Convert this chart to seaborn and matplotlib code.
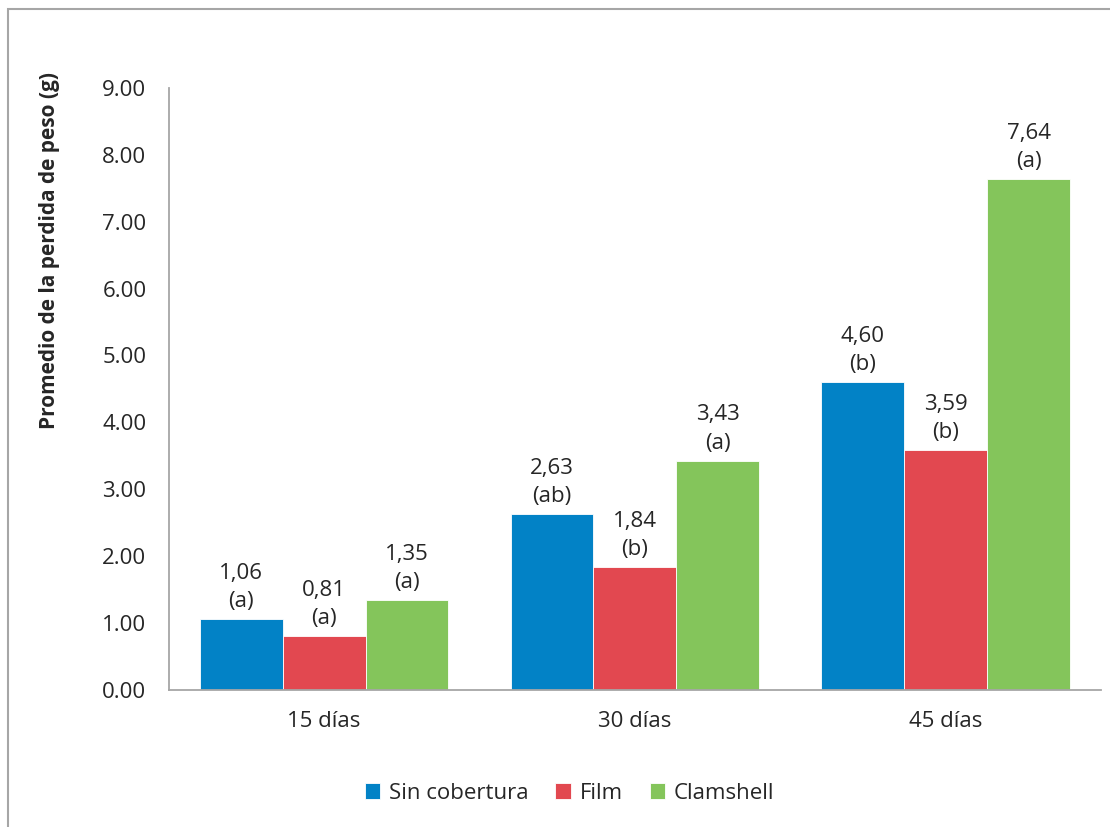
import pandas as pd
import matplotlib.pyplot as plt
import seaborn as sns
from matplotlib.patches import Rectangle

#\\Datos del grafico
dias = ['15 días', '30 días', '45 días']
tratamientos = ['Sin cobertura', 'Film', 'Clamshell']
sin_cobertura = [1.06, 2.63, 4.60]
film = [0.81, 1.84, 3.59]
clamshell = [1.35, 3.43, 7.64]
letras_sin = ['(a)', '(ab)', '(b)']
letras_film = ['(a)', '(b)', '(b)']
letras_clam = ['(a)', '(a)', '(a)']
colores = ['#0282C6', '#E24850', '#84C55B']

df = pd.DataFrame({
    'Dia': dias * 3,
    'Tratamiento': [t for t in tratamientos for _ in dias],
    'Peso': sin_cobertura + film + clamshell,
})

sns.set_style('white')
plt.rcParams['font.family'] = ['Open Sans', 'DejaVu Sans']
fs = 16

fig = plt.figure(figsize=(11.1, 8.27), dpi=100)
ax = fig.add_axes([0.152, 0.1657, 0.840, 0.728])

sns.barplot(data=df, x='Dia', y='Peso', hue='Tratamiento', palette=colores,
            saturation=1, width=0.8, edgecolor='white', linewidth=0.6, ax=ax)

# etiquetas encima de las barras
for cont, vals, letras in zip(ax.containers, [sin_cobertura, film, clamshell],
                              [letras_sin, letras_film, letras_clam]):
    labs = [f'{v:.2f}'.replace('.', ',') + '\n' + l for v, l in zip(vals, letras)]
    ax.bar_label(cont, labels=labs, padding=5, fontsize=fs, color='#262626',
                 linespacing=1.45)

ax.set_ylim(0, 9)
ax.set_xlim(-0.5, 2.5)
ax.set_yticks(range(0, 10))
ax.set_yticklabels([f'{i}.00' for i in range(0, 10)], fontsize=fs, color='#262626')
ax.tick_params(axis='x', labelsize=fs, colors='#262626', pad=12)
ax.tick_params(axis='y', pad=16, length=0)
ax.set_xlabel('')
ax.set_ylabel('Promedio de la perdida de peso (g)', fontsize=15, fontweight='bold',
              color='#262626')
ax.yaxis.set_label_coords(-0.117, 0.73)

sns.despine(ax=ax, top=True, right=True)
for s in ['left', 'bottom']:
    ax.spines[s].set_color('#A6A6A6')
    ax.spines[s].set_linewidth(1.3)

ax.legend(loc='center', bbox_to_anchor=(0.43, -0.172), ncol=3, frameon=False,
          fontsize=fs, handlelength=0.7, handleheight=0.7, handletextpad=0.4,
          columnspacing=1.2)
for t in ax.get_legend().get_texts():
    t.set_color('#262626')

# borde del area del grafico
fig.patches.append(Rectangle((8 / 1110, -0.5), 1.5, 0.5 + 1 - 9 / 827,
                             transform=fig.transFigure, fill=False,
                             edgecolor='#A6A6A6', linewidth=1.5))

plt.savefig('out.png', dpi=100)
